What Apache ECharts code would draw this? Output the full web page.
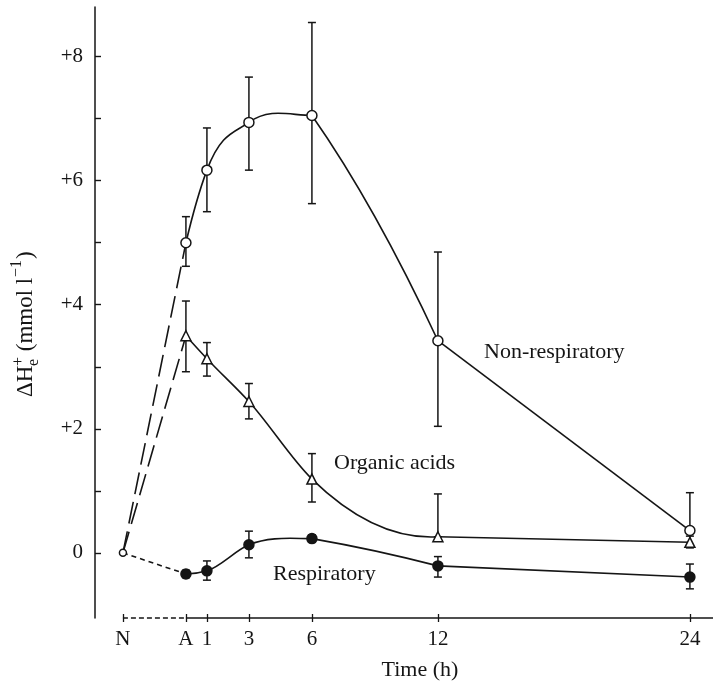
<!DOCTYPE html>
<html>
<head>
<meta charset="utf-8">
<script src="https://cdn.jsdelivr.net/npm/echarts@6/dist/echarts.min.js"></script>
<style>
html,body{margin:0;padding:0;background:#fff;}
#chart{width:714px;height:685px;}
</style>
</head>
<body>
<div id="chart"></div>
<script>
// ---- data ----
const hours = [0, 1, 3, 6, 12, 24];          // time after A (h); A = 0
const baselineTime = -3;                     // position of "N"
const baselineValue = 0;
const xTickValues = [-3, 0, 1, 3, 6, 12, 24];
const xTickLabels = ['N', 'A', '1', '3', '6', '12', '24'];
const yTickValues = [0, 1, 2, 3, 4, 5, 6, 7, 8];
const yLabelValues = [0, 2, 4, 6, 8];

const nonResp   = [5.00, 6.17, 6.94, 7.05, 3.42, 0.36];
const nonRespHi = [5.42, 6.85, 7.67, 8.55, 4.85, 0.97];
const nonRespLo = [4.62, 5.50, 6.17, 5.63, 2.04, 0.36];

const organic   = [3.50, 3.13, 2.44, 1.19, 0.26, 0.17];
const organicHi = [4.06, 3.39, 2.73, 1.60, 0.95, 0.27];
const organicLo = [2.92, 2.85, 2.16, 0.82, 0.26, 0.08];

const resp   = [-0.34, -0.29, 0.13, 0.23, -0.21, -0.39];
const respHi = [-0.28, -0.13, 0.35, 0.29, -0.06, -0.18];
const respLo = [-0.40, -0.44, -0.08, 0.17, -0.39, -0.58];

// ---- axis ranges ----
const X_MIN = -4.33, X_MAX = 25.1;
const Y_MIN = -1.05, Y_MAX = 8.8;

const INK = '#151515';
const FONT = '"Liberation Serif", "DejaVu Serif", serif';

function pts(vals, from, to) {
  const out = [];
  for (let i = from; i <= to; i++) out.push([hours[i], vals[i]]);
  return out;
}
function bars(lo, hi) {
  return hours.map((h, i) => [h, lo[i], hi[i]]);
}
const last = hours.length - 1;
const bend = hours.indexOf(12);

function lineSeries(data, type) {
  return {
    type: 'line', data: data, symbol: 'none',
    clip: false, z: 2, silent: true,
    lineStyle: { color: INK, width: 1.6, type: type || 'solid' }
  };
}

// smooth curve through data points (piecewise cubic Hermite in pixel space)
function curveSeries(data) {
  return {
    type: 'custom', data: data, z: 2, silent: true, clip: false,
    renderItem: function (params, api) {
      const i = params.dataIndex;
      const n = data.length;
      if (i >= n - 1) return null;
      const P = data.map(d => api.coord(d));
      const d = [];
      for (let k = 0; k < n - 1; k++) d.push((P[k + 1][1] - P[k][1]) / (P[k + 1][0] - P[k][0]));
      const mL = new Array(n), mR = new Array(n);
      for (let k = 1; k < n - 1; k++) {
        const h0 = P[k][0] - P[k - 1][0], h1 = P[k + 1][0] - P[k][0];
        if (d[k - 1] * d[k] < 0) { mL[k] = 0; mR[k] = 0.8 * d[k]; }
        else { mL[k] = mR[k] = (d[k - 1] * h1 + d[k] * h0) / (h0 + h1); }
      }
      mR[0] = 2 * d[0] - mL[1];
      mL[n - 1] = 2 * d[n - 2] - mR[n - 2];
      const a = P[i], b = P[i + 1], h = (b[0] - a[0]) / 3;
      return {
        type: 'bezierCurve',
        shape: {
          x1: a[0], y1: a[1], x2: b[0], y2: b[1],
          cpx1: a[0] + h, cpy1: a[1] + h * mR[i],
          cpx2: b[0] - h, cpy2: b[1] - h * mL[i + 1]
        },
        style: { stroke: INK, lineWidth: 1.6, fill: null }
      };
    }
  };
}

function errSeries(data) {
  return {
    type: 'custom', data: data, z: 3, silent: true, clip: false,
    renderItem: function (params, api) {
      const x = api.value(0), lo = api.value(1), hi = api.value(2);
      const p1 = api.coord([x, lo]), p2 = api.coord([x, hi]);
      const w = 4;
      const st = { stroke: INK, lineWidth: 1.5 };
      return {
        type: 'group', children: [
          { type: 'line', shape: { x1: p1[0], y1: p1[1], x2: p2[0], y2: p2[1] }, style: st },
          { type: 'line', shape: { x1: p1[0] - w, y1: p1[1], x2: p1[0] + w, y2: p1[1] }, style: st },
          { type: 'line', shape: { x1: p2[0] - w, y1: p2[1], x2: p2[0] + w, y2: p2[1] }, style: st }
        ]
      };
    }
  };
}
function markerSeries(data, symbol, fill, size) {
  return {
    type: 'scatter', data: data, symbol: symbol, symbolSize: size || 10, z: 5, silent: true, clip: false,
    itemStyle: { color: fill, borderColor: INK, borderWidth: 1.5, opacity: 1 }
  };
}

const chart = echarts.init(document.getElementById('chart'), null, { renderer: 'canvas' });

const TXT = '22px ' + FONT;
const option = {
  backgroundColor: '#fff',
  animation: false,
  grid: { left: 95, right: 714 - 95 - Math.round((X_MAX - X_MIN) * 21), top: 7, bottom: 67, containLabel: false },
  xAxis: [{
    type: 'value', min: X_MIN, max: X_MAX, position: 'bottom',
    axisLine: { show: false, onZero: false },
    splitLine: { show: false },
    axisTick: { show: true, inside: false, length: 4, customValues: xTickValues, lineStyle: { color: INK, width: 1.3 } },
    axisLabel: {
      customValues: xTickValues, margin: 11,
      fontFamily: FONT, fontSize: 21, color: INK,
      formatter: function (v) { const i = xTickValues.indexOf(v); return i >= 0 ? xTickLabels[i] : ''; }
    }
  }, {
    type: 'value', min: X_MIN, max: X_MAX, position: 'bottom', offset: 0,
    axisLine: { show: false, onZero: false },
    splitLine: { show: false },
    axisTick: { show: true, inside: true, length: 4, customValues: xTickValues, lineStyle: { color: INK, width: 1.3 } },
    axisLabel: { show: false }
  }],
  yAxis: {
    type: 'value', min: Y_MIN, max: Y_MAX,
    axisLine: { show: true, onZero: false, lineStyle: { color: INK, width: 1.5 } },
    splitLine: { show: false },
    axisTick: { show: true, inside: true, length: 6, customValues: yTickValues, lineStyle: { color: INK, width: 1.4 } },
    axisLabel: {
      customValues: yLabelValues, margin: 12,
      fontFamily: FONT, fontSize: 21, color: INK,
      formatter: function (v) { return v > 0 ? '+' + v : String(v); }
    }
  },
  graphic: [
    {
      type: 'group', x: 26, y: 320, rotation: Math.PI / 2, silent: true,
      children: [
        { type: 'text', x: -77, y: 0, style: { text: 'ΔH', font: '23px ' + FONT, fill: INK, textAlign: 'left', textVerticalAlign: 'middle' } },
        { type: 'text', x: -46, y: -7, style: { text: '+', font: '16px ' + FONT, fill: INK, textAlign: 'left', textVerticalAlign: 'middle' } },
        { type: 'text', x: -46, y: 8, style: { text: 'e', font: '16px ' + FONT, fill: INK, textAlign: 'left', textVerticalAlign: 'middle' } },
        { type: 'text', x: -37, y: 0, style: { text: ' (mmol l', font: '23px ' + FONT, fill: INK, textAlign: 'left', textVerticalAlign: 'middle' } },
        { type: 'text', x: 43, y: -9, style: { text: '−1', font: '16px ' + FONT, fill: INK, textAlign: 'left', textVerticalAlign: 'middle' } },
        { type: 'text', x: 61, y: 0, style: { text: ')', font: '23px ' + FONT, fill: INK, textAlign: 'left', textVerticalAlign: 'middle' } }
      ]
    },
    { type: 'text', x: 420, y: 670, silent: true, style: { text: 'Time (h)', font: TXT, fill: INK, textAlign: 'center', textVerticalAlign: 'middle' } },
    { type: 'text', x: 484, y: 352, silent: true, style: { text: 'Non-respiratory', font: TXT, fill: INK, textAlign: 'left', textVerticalAlign: 'middle' } },
    { type: 'text', x: 334, y: 463, silent: true, style: { text: 'Organic acids', font: TXT, fill: INK, textAlign: 'left', textVerticalAlign: 'middle' } },
    { type: 'text', x: 273, y: 574, silent: true, style: { text: 'Respiratory', font: TXT, fill: INK, textAlign: 'left', textVerticalAlign: 'middle' } }
  ],
  series: [
    // x axis line: dashed N -> A, solid from A
    lineSeries([[baselineTime, Y_MIN], [hours[0], Y_MIN]], [5, 3]),
    lineSeries([[hours[0], Y_MIN], [X_MAX, Y_MIN]], 'solid'),

    // Non-respiratory
    lineSeries([[baselineTime, baselineValue], [hours[0], nonResp[0]]], [22, 8]),
    curveSeries(pts(nonResp, 0, bend)),
    lineSeries(pts(nonResp, bend, last), 'solid'),
    // Organic acids
    lineSeries([[baselineTime, baselineValue], [hours[0], organic[0]]], [22, 8]),
    curveSeries(pts(organic, 0, bend)),
    lineSeries(pts(organic, bend, last), 'solid'),
    // Respiratory
    lineSeries([[baselineTime, baselineValue], [hours[0], resp[0]]], [5, 4]),
    curveSeries(pts(resp, 0, bend)),
    lineSeries(pts(resp, bend, last), 'solid'),

    errSeries(bars(nonRespLo, nonRespHi)),
    errSeries(bars(organicLo, organicHi)),
    errSeries(bars(respLo, respHi)),

    markerSeries(pts(resp, 0, last), 'circle', INK, 10),
    markerSeries(pts(organic, 0, last), 'triangle', '#fff', 10),
    markerSeries(pts(nonResp, 0, last), 'circle', '#fff', 10),
    markerSeries([[baselineTime, baselineValue]], 'circle', '#fff', 7)
  ]
};
chart.setOption(option);
</script>
</body>
</html>
